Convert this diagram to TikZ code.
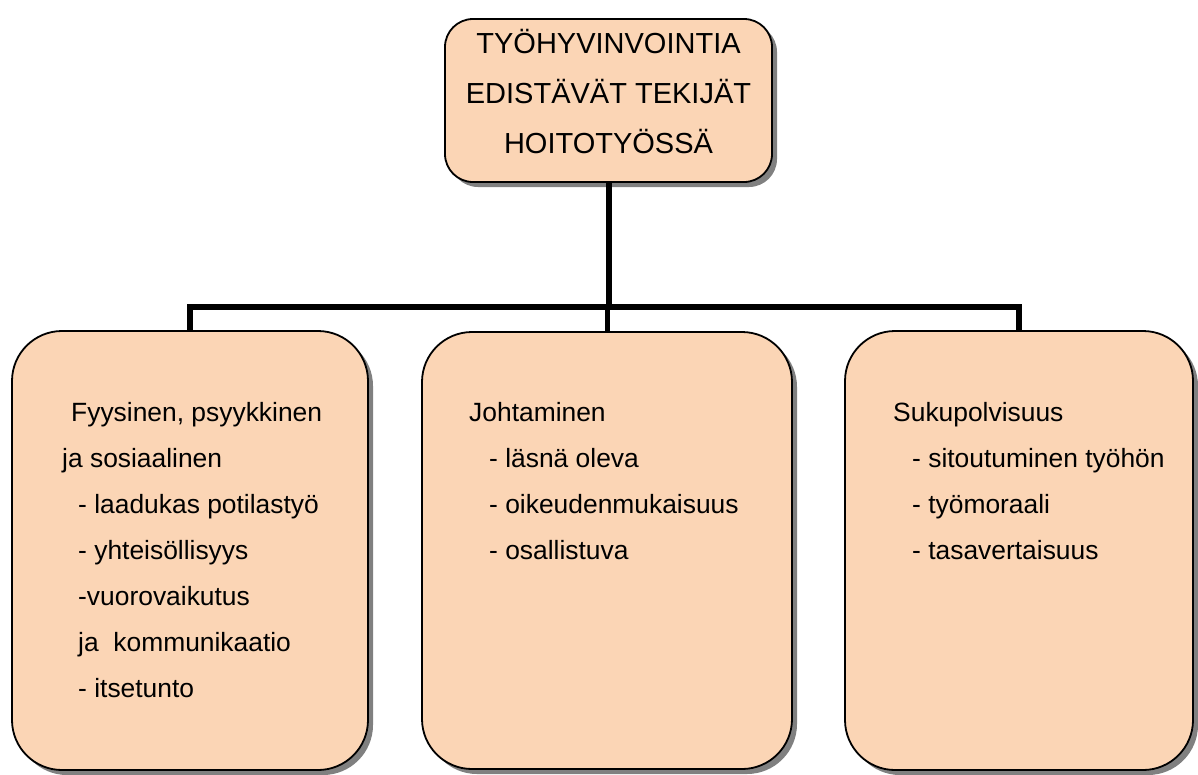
\documentclass[tikz,border=0pt]{standalone}
\usepackage{fontspec}
\setmainfont{Liberation Sans}
\usetikzlibrary{shadows}
\definecolor{peach}{HTML}{FBD5B5}
\definecolor{shade}{HTML}{808080}
\tikzset{
  box/.style={draw=black, line width=1.8pt, fill=peach, inner sep=0pt,
    drop shadow={shadow xshift=5pt, shadow yshift=-5pt, fill=shade, opacity=1}},
  bigbox/.style={box, rounded corners=50pt, minimum width=#1},
  conn/.style={draw=black, line width=6pt},
  txt/.style={inner sep=0pt, anchor=base west, font=\fontsize{26.4}{30}\selectfont},
  ttxt/.style={inner sep=0pt, anchor=base, font=\fontsize{29}{32}\selectfont}
}
\begin{document}
\begin{tikzpicture}[x=1pt,y=-1pt]
\useasboundingbox (0,0) rectangle (1198,774);
% boxes
\node[box, rounded corners=28pt, minimum width=327pt, minimum height=163pt] (top) at (608.5,100.5) {};
\node[bigbox=356pt, minimum height=439pt] (left) at (190,550.5) {};
\node[bigbox=370pt, minimum height=437pt] (mid) at (607,550.5) {};
\node[bigbox=348pt, minimum height=439pt] (right) at (1019,550.5) {};
% connectors
\coordinate (bar) at (607,307);
\draw[conn] (top.south) -- (top.south |- bar);
\draw[conn, line join=miter] (left.north) |- (bar) -| (right.north);
\draw[conn, line width=5pt] (bar) -- (mid.north);
% top text
\node[ttxt] (t1) at (608.5,53) {TYÖHYVINVOINTIA};
\node[ttxt] (t2) at (608.5,103) {EDISTÄVÄT TEKIJÄT};
\node[ttxt] (t3) at (608.5,153) {HOITOTYÖSSÄ};
% left text
\node[txt] (l1) at (71,421) {Fyysinen, psyykkinen};
\node[txt] (l2) at (62,467) {ja sosiaalinen};
\node[txt] (l3) at (78,513) {- laadukas potilastyö};
\node[txt] (l4) at (78,559) {- yhteisöllisyys};
\node[txt] (l5) at (78,605) {-vuorovaikutus};
\node[txt] (l6) at (78,651) {ja\ \ kommunikaatio};
\node[txt] (l7) at (78,697) {- itsetunto};
% middle text
\node[txt] (m1) at (469,421) {Johtaminen};
\node[txt] (m2) at (489,467) {- läsnä oleva};
\node[txt] (m3) at (489,513) {- oikeudenmukaisuus};
\node[txt] (m4) at (489,559) {- osallistuva};
% right text
\node[txt] (r1) at (893,421) {Sukupolvisuus};
\node[txt] (r2) at (912,467) {- sitoutuminen työhön};
\node[txt] (r3) at (912,513) {- työmoraali};
\node[txt] (r4) at (912,559) {- tasavertaisuus};
\end{tikzpicture}
\end{document}
